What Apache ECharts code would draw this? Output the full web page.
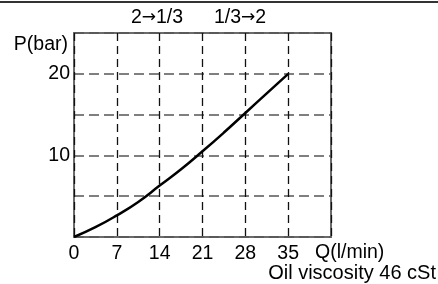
<!DOCTYPE html>
<html>
<head>
<meta charset="utf-8">
<script src="https://cdn.jsdelivr.net/npm/echarts@6/dist/echarts.min.js"></script>
<style>
  html, body { margin: 0; padding: 0; background: #fff; }
  #chart { width: 438px; height: 284px; }
</style>
</head>
<body>
<div id="chart"></div>
<script>
// flow Q (l/min) vs pressure drop P (bar)
const flowQ = [0, 3.5, 7, 10.5, 14, 17.5, 21, 24.5, 28, 31.5, 35]
const pressureP = [0, 1.2, 2.65, 4.3, 6.3, 8.3, 10.5, 12.8, 15.2, 17.6, 20]
const yLabels = [10, 20]
const topNotes = [['2', '1/3'], ['1/3', '2']]

const font = "'Liberation Sans', Arial, sans-serif"
const fs = 19.5

const chart = echarts.init(document.getElementById('chart'), null, { renderer: 'canvas' })

// arrow glyph in DejaVu is longer, closer to the reference
const note = (pair, x) => ({
  type: 'text', x: x, y: 18,
  style: {
    text: pair[0] + '{a|→}' + pair[1],
    font: fs + 'px ' + font, fill: '#000', align: 'center', verticalAlign: 'middle',
    rich: { a: { fontFamily: 'DejaVu Sans', fontSize: 17, fill: '#000' } }
  }
})

chart.setOption({
  animation: false,
  grid: {
    left: 74, top: 33, width: 257, height: 204,
    show: true, borderColor: '#6b6b6b', borderWidth: 2, backgroundColor: 'transparent'
  },
  xAxis: {
    type: 'value', min: 0, max: 42, interval: 7,
    axisLine: { show: false },
    axisTick: { show: false },
    axisLabel: {
      margin: 7, color: '#000', fontSize: fs, fontFamily: font,
      formatter: v => (v === 42 ? '' : String(v))
    },
    splitLine: { lineStyle: { color: '#111', width: 1.3, type: [8, 5] } }
  },
  yAxis: {
    type: 'value', min: 0, max: 25, interval: 5,
    axisLine: { show: false },
    axisTick: { show: false },
    axisLabel: {
      margin: 4, color: '#000', fontSize: fs, fontFamily: font,
      formatter: v => (yLabels.includes(v) ? String(v) : '')
    },
    splitLine: { lineStyle: { color: '#555', width: 1.5, type: [10, 5] } }
  },
  series: [{
    type: 'line',
    data: flowQ.map((q, i) => [q, pressureP[i]]),
    smooth: true,
    showSymbol: false,
    lineStyle: { color: '#000', width: 2.5 }
  }],
  graphic: [
    { type: 'line', shape: { x1: 0, y1: 2, x2: 438, y2: 2 }, style: { stroke: '#333', lineWidth: 2 } },
    { type: 'text', x: 68, y: 45, style: { text: 'P(bar)', font: fs + 'px ' + font, fill: '#000', align: 'right', verticalAlign: 'middle' } },
    note(topNotes[0], 157),
    note(topNotes[1], 240),
    { type: 'text', x: 315, y: 253, style: { text: 'Q(l/min)', font: fs + 'px ' + font, fill: '#000', align: 'left', verticalAlign: 'middle' } },
    { type: 'text', x: 436, y: 273, style: { text: 'Oil viscosity 46 cSt', font: '20px ' + font, fill: '#000', align: 'right', verticalAlign: 'middle' } }
  ]
})
</script>
</body>
</html>
